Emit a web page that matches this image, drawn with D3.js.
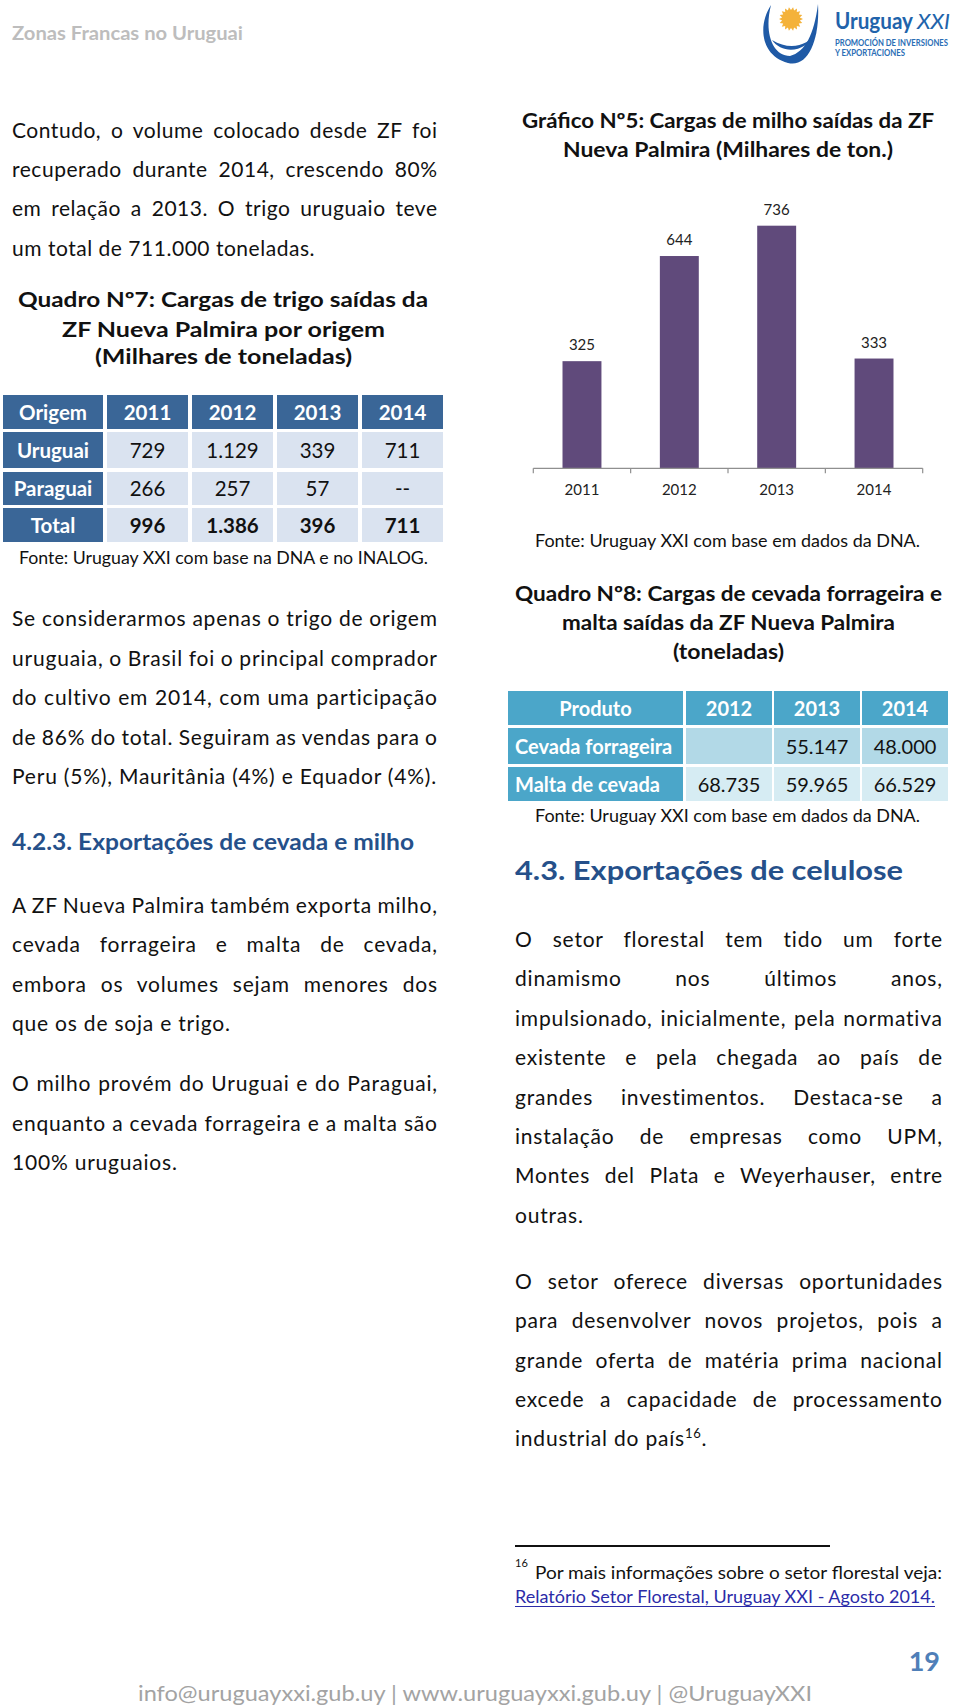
<!DOCTYPE html>
<html><head><meta charset="utf-8">
<script src="https://cdn.jsdelivr.net/npm/d3@7"></script>
<style>
body{margin:0;background:#fff}
svg{display:block}
text{font-family:Lato,'Open Sans',sans-serif}
</style>
</head><body>
<svg id="page" width="960" height="1708"></svg>
<script>
// ---------- DATA ----------
const years = ["2011", "2012", "2013", "2014"];
const milho = [325, 644, 736, 333];

const q7Columns = ["Origem", "2011", "2012", "2013", "2014"];
const q7Rows = ["Uruguai", "Paraguai", "Total"];
const q7Uruguai = ["729", "1.129", "339", "711"];
const q7Paraguai = ["266", "257", "57", "--"];
const q7Total = ["996", "1.386", "396", "711"];

const q8Columns = ["Produto", "2012", "2013", "2014"];
const q8Rows = ["Cevada forrageira", "Malta de cevada"];
const q8Cevada = ["", "55.147", "48.000"];
const q8Malta = ["68.735", "59.965", "66.529"];

// ---------- HELPERS ----------
const FONT = "Lato, 'Open Sans', sans-serif";
const svg = d3.select("#page");

function txt(str, x, y, o = {}) {
  const t = svg.append("text").attr("x", x).attr("y", y).text(str)
    .attr("font-size", o.size || 21).attr("fill", o.fill || "#111")
    .attr("font-weight", o.weight || "normal")
    .attr("text-anchor", o.anchor || "start");
  if (o.style) t.attr("font-style", o.style);
  if (o.width) t.attr("textLength", o.width).attr("lengthAdjust", "spacingAndGlyphs");
  return t;
}
function measure(str, size, weight) {
  const t = svg.append("text").attr("font-size", size).attr("font-weight", weight || "normal").text(str);
  const w = t.node().getComputedTextLength();
  t.remove();
  return w;
}
function paragraph(lines, x0, width, y0, step, o) {
  lines.forEach((s, i) => {
    const last = i === lines.length - 1;
    const t = svg.append("text").attr("x", x0).attr("y", y0 + i * step)
      .attr("font-size", o.size).attr("fill", o.fill || "#111")
      .style("letter-spacing", o.ls + "px").text(s);
    if (!last) {
      const w = t.node().getComputedTextLength() - o.ls;
      const n = (s.match(/ /g) || []).length;
      if (n) t.style("word-spacing", ((width - w) / n) + "px");
    }
  });
}

// ---------- HEADER ----------
txt("Zonas Francas no Uruguai", 12, 40, {size: 19.5, fill: "#bdbdbd", weight: "bold", width: 231});

// logo
const logo = svg.append("g");
const sunPts = d3.range(36).map(i => {
  const a = i * Math.PI / 18, r = i % 2 ? 9 : 12;
  return [791 + r * Math.cos(a), 19 + r * Math.sin(a)];
});
logo.append("path").attr("d", "M" + sunPts.join("L") + "Z").attr("fill", "#f4b23a");
logo.append("path").attr("fill", "#1f5aa6")
  .attr("d", "M771 5 C758 25 760 55 788 63 C808 68 820 40 818 4 C814 35 805 52 790 56 C772 56 764 32 771 5 Z");
logo.append("path").attr("fill", "#1f5aa6")
  .attr("d", "M772 40 C782 54 805 54 817 32 C808 46 790 51 772 40 Z");
txt("Uruguay", 835, 29, {size: 22, weight: "bold", fill: "#2163ab", width: 78});
txt("XXI", 917, 29, {size: 22, style: "italic", fill: "#2163ab", width: 33});
txt("PROMOCIÓN DE INVERSIONES", 835, 46, {size: 8.5, weight: "bold", fill: "#2a6db5", width: 113});
txt("Y EXPORTACIONES", 835, 56, {size: 8.5, weight: "bold", fill: "#2a6db5", width: 70});

// ---------- LEFT COLUMN ----------
const p1 = ["Contudo, o volume colocado desde ZF foi",
  "recuperado durante 2014, crescendo 80%",
  "em relação a 2013. O trigo uruguaio teve",
  "um total de 711.000 toneladas."];
const ls1 = (303 - measure(p1[3], 21)) / p1[3].length;
paragraph(p1, 12, 425, 138, 39.2, {size: 21, ls: ls1});

const calibB = "Peru (5%), Mauritânia (4%) e Equador (4%).";
const lsB = (425 - measure(calibB, 21)) / calibB.length;

// Quadro 7 title
txt("Quadro Nº7: Cargas de trigo saídas da", 223, 307, {size: 20, weight: "bold", anchor: "middle", width: 410});
txt("ZF Nueva Palmira por origem", 223.5, 336.5, {size: 20, weight: "bold", anchor: "middle", width: 323});
txt("(Milhares de toneladas)", 223.5, 364, {size: 20, weight: "bold", anchor: "middle", width: 257});

// Quadro 7 table
const t1Cols = [[3, 103], [107, 188], [192, 273], [277, 358], [362, 443]];
const t1RowsY = [[395, 429], [432, 468], [472, 505], [508, 542]];
const t1Data = [q7Columns, [q7Rows[0]].concat(q7Uruguai), [q7Rows[1]].concat(q7Paraguai), [q7Rows[2]].concat(q7Total)];
t1Data.forEach((row, r) => {
  row.forEach((v, c) => {
    const [x0, x1] = t1Cols[c], [y0, y1] = t1RowsY[r];
    const dark = r === 0 || c === 0;
    svg.append("rect").attr("x", x0).attr("y", y0).attr("width", x1 - x0).attr("height", y1 - y0)
      .attr("fill", dark ? "#3a6697" : "#dae3f0");
    txt(v, (x0 + x1) / 2, (y0 + y1) / 2 + 7.5, {size: 20.5, anchor: "middle",
      weight: (dark || r === 3) ? "bold" : "normal", fill: dark ? "#fff" : "#111"});
  });
});
txt("Fonte: Uruguay XXI com base na DNA e no INALOG.", 19, 564, {size: 17, width: 409});

paragraph(["Se considerarmos apenas o trigo de origem",
  "uruguaia, o Brasil foi o principal comprador",
  "do cultivo em 2014, com uma participação",
  "de 86% do total. Seguiram as vendas para o",
  calibB], 12, 425, 626, 39.5, {size: 21, ls: lsB});

txt("4.2.3. Exportações de cevada e milho", 12, 850, {size: 23, weight: "bold", fill: "#25508a", width: 402});

paragraph(["A ZF Nueva Palmira também exporta milho,",
  "cevada forrageira e malta de cevada,",
  "embora os volumes sejam menores dos",
  "que os de soja e trigo."], 12, 425, 913, 39.3, {size: 21, ls: lsB});

paragraph(["O milho provém do Uruguai e do Paraguai,",
  "enquanto a cevada forrageira e a malta são",
  "100% uruguaios."], 12, 425, 1091, 39.5, {size: 21, ls: lsB});

// ---------- RIGHT COLUMN : CHART ----------
txt("Gráfico Nº5: Cargas de milho saídas da ZF", 728, 128, {size: 20, weight: "bold", anchor: "middle", width: 412});
txt("Nueva Palmira (Milhares de ton.)", 728, 157, {size: 20, weight: "bold", anchor: "middle", width: 330});

const chart = svg.append("g");
const x = d3.scaleBand().domain(years).range([533.3, 922.7]).paddingInner(0.6).paddingOuter(0.3);
const y = d3.scaleLinear().domain([0, 800]).range([468.3, 204.6]);

chart.selectAll("rect.bar").data(years).join("rect").attr("class", "bar")
  .attr("x", d => x(d)).attr("width", x.bandwidth())
  .attr("y", (d, i) => y(milho[i])).attr("height", (d, i) => y(0) - y(milho[i]))
  .attr("fill", "#604a7b");

chart.selectAll("text.val").data(years).join("text").attr("class", "val")
  .attr("x", d => x(d) + x.bandwidth() / 2).attr("y", (d, i) => y(milho[i]) - 11)
  .attr("text-anchor", "middle").attr("font-size", 15).attr("fill", "#222")
  .text((d, i) => milho[i]);

const ax = chart.append("g").attr("transform", `translate(0,${y(0)})`)
  .call(d3.axisBottom(x).tickSize(0).tickPadding(16));
ax.select(".domain").remove();
ax.selectAll("text").attr("font-size", 15).attr("fill", "#222").style("font-family", FONT);
chart.append("line").attr("x1", x.range()[0]).attr("x2", x.range()[1])
  .attr("y1", y(0)).attr("y2", y(0)).attr("stroke", "#8f8f8f").attr("stroke-width", 1.2);
chart.selectAll("line.bt").data(d3.range(years.length + 1)).join("line").attr("class", "bt")
  .attr("x1", i => x.range()[0] + i * x.step()).attr("x2", i => x.range()[0] + i * x.step())
  .attr("y1", y(0)).attr("y2", y(0) + 5).attr("stroke", "#8f8f8f").attr("stroke-width", 1.2);

txt("Fonte: Uruguay XXI com base em dados da DNA.", 535, 547, {size: 17, width: 385});

// Quadro 8
txt("Quadro Nº8: Cargas de cevada forrageira e", 728.5, 601, {size: 20, weight: "bold", anchor: "middle", width: 427});
txt("malta saídas da ZF Nueva Palmira", 728.5, 630, {size: 20, weight: "bold", anchor: "middle", width: 333});
txt("(toneladas)", 728.5, 659, {size: 20, weight: "bold", anchor: "middle", width: 111});

const t2Cols = [[508, 683], [686, 772], [774, 860], [862, 948]];
const t2RowsY = [[691, 725], [728, 764], [767, 801]];
const t2Data = [q8Columns, [q8Rows[0]].concat(q8Cevada), [q8Rows[1]].concat(q8Malta)];
t2Data.forEach((row, r) => {
  row.forEach((v, c) => {
    const [x0, x1] = t2Cols[c], [y0, y1] = t2RowsY[r];
    const dark = r === 0 || c === 0;
    svg.append("rect").attr("x", x0).attr("y", y0).attr("width", x1 - x0).attr("height", y1 - y0)
      .attr("fill", dark ? "#4ba6c9" : (r === 1 ? "#b2d9e7" : "#d6ecf3"));
    const left = c === 0 && r > 0;
    txt(v, left ? 515 : (x0 + x1) / 2, (y0 + y1) / 2 + 7.5, {size: 20, anchor: left ? "start" : "middle",
      weight: dark ? "bold" : "normal", fill: dark ? "#fff" : "#111"});
  });
});
txt("Fonte: Uruguay XXI com base em dados da DNA.", 535, 822, {size: 17, width: 385});

txt("4.3. Exportações de celulose", 515, 880, {size: 26, weight: "bold", fill: "#25508a", width: 388});

paragraph(["O setor florestal tem tido um forte",
  "dinamismo nos últimos anos,",
  "impulsionado, inicialmente, pela normativa",
  "existente e pela chegada ao país de",
  "grandes investimentos. Destaca-se a",
  "instalação de empresas como UPM,",
  "Montes del Plata e Weyerhauser, entre",
  "outras."], 515, 427, 947, 39.4, {size: 21, ls: lsB});

paragraph(["O setor oferece diversas oportunidades",
  "para desenvolver novos projetos, pois a",
  "grande oferta de matéria prima nacional",
  "excede a capacidade de processamento",
  ""], 515, 427, 1289, 39.3, {size: 21, ls: lsB});
const ind = svg.append("text").attr("x", 515).attr("y", 1446).attr("font-size", 21).attr("fill", "#111")
  .style("letter-spacing", lsB + "px");
ind.append("tspan").text("industrial do país");
ind.append("tspan").attr("font-size", 13).attr("dy", -8).text("16");
ind.append("tspan").attr("dy", 8).text(".");

// ---------- FOOTNOTE & FOOTER ----------
svg.append("line").attr("x1", 515).attr("x2", 830).attr("y1", 1546).attr("y2", 1546)
  .attr("stroke", "#111").attr("stroke-width", 2);
txt("16", 515, 1567, {size: 11});
txt("Por mais informações sobre o setor florestal veja:", 535, 1579, {size: 17, width: 407});
txt("Relatório Setor Florestal, Uruguay XXI - Agosto 2014.", 515, 1603, {size: 17, width: 420, fill: "#2b2ba8"});
svg.append("line").attr("x1", 515).attr("x2", 935).attr("y1", 1606.5).attr("y2", 1606.5)
  .attr("stroke", "#2b2ba8").attr("stroke-width", 1.2);
txt("19", 940, 1671, {size: 27, weight: "bold", fill: "#4f7fb8", anchor: "end"});
txt("info@uruguayxxi.gub.uy | www.uruguayxxi.gub.uy | @UruguayXXI", 138, 1701, {size: 22, fill: "#a3a3a3", width: 674});
</script>
</body></html>
